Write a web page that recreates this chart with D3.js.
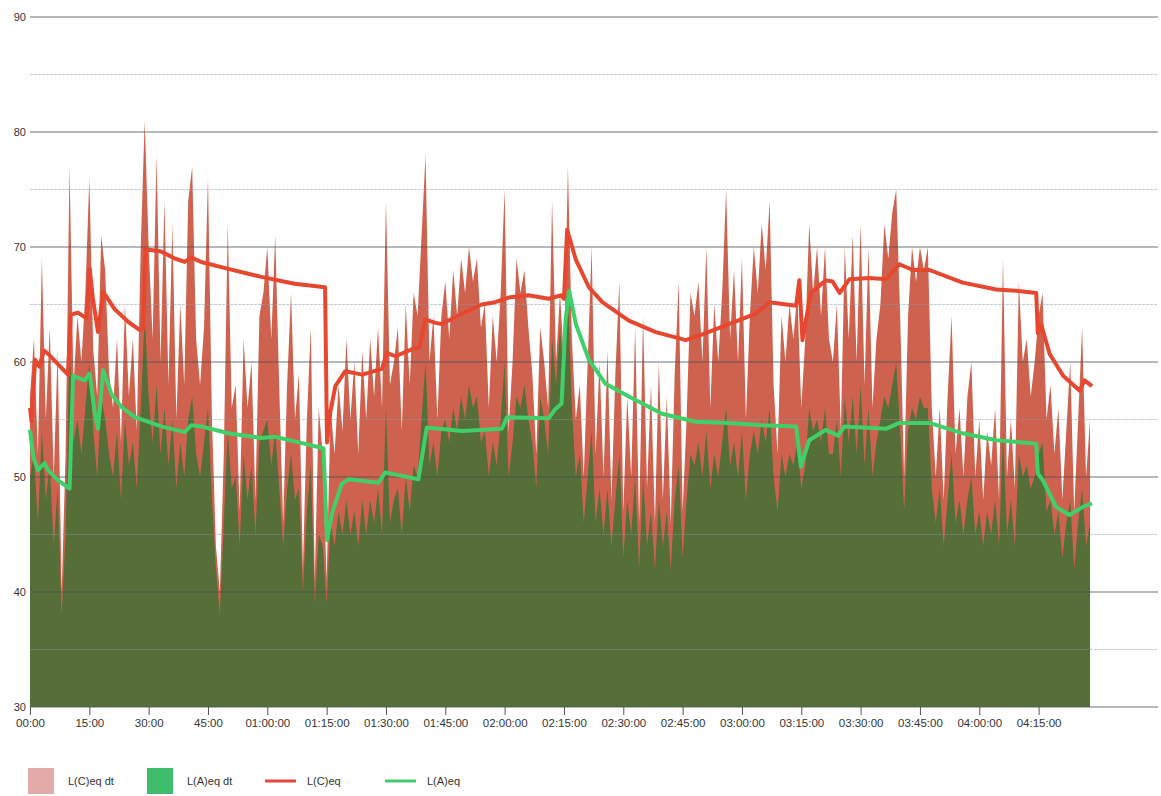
<!DOCTYPE html>
<html>
<head>
<meta charset="utf-8">
<script src="https://cdn.jsdelivr.net/npm/d3@7"></script>
<style>
  body { margin: 0; background: #fff; }
  text { font-family: "Liberation Sans", Arial, sans-serif; }
</style>
</head>
<body>
<div id="main"></div>
<script>
// L(C)eq dt, one value per minute from 00:00 (dB)
const lcDt = [
  57,62,52,69,55,63,50,61,40,52,
  77,58,64,60,66,76,61,57,71,68,
  59,56,62,53,65,57,62,54,70,81,
  70,62,78,60,74,58,72,55,65,58,
  74,77,62,58,63,76,55,44,40,52,
  72,56,58,47,62,56,60,48,64,66,
  70,62,71,58,46,58,66,55,59,42,
  55,63,41,56,52,41,56,52,58,54,
  62,55,60,52,61,55,62,57,63,56,
  74,58,60,63,54,65,58,66,64,71,
  78,60,64,55,64,67,62,68,64,69,
  66,70,67,69,63,65,56,64,60,66,
  75,54,60,69,66,68,63,59,52,63,
  60,56,74,60,66,60,77,62,55,58,
  50,60,70,52,60,50,61,48,59,67,
  47,57,50,63,46,64,49,58,46,60,
  48,57,46,59,67,47,55,66,64,67,
  60,70,56,65,60,66,75,62,68,60,
  69,55,64,70,66,72,68,74,58,52,
  64,60,65,62,66,56,62,72,66,70,
  64,70,62,60,65,54,70,62,71,60,
  72,58,70,56,62,65,72,69,73,75,
  64,50,64,70,67,70,68,70,56,50,
  56,48,57,64,52,56,50,57,60,50,
  55,48,54,51,56,48,69,50,55,49,
  67,60,62,57,60,64,66,55,58,52,
  56,48,54,60,47,55,63,50,55
];

// L(A)eq dt, one value per minute from 00:00 (dB)
const laDt = [
  50,52,46,54,48,51,44,49,38,45,
  62,53,55,52,56,60,54,50,57,55,
  52,50,54,48,55,51,53,49,56,64,
  57,53,58,52,56,51,55,49,53,50,
  55,57,52,50,53,56,48,42,38,46,
  54,49,50,44,52,48,51,45,53,54,
  55,51,54,49,44,49,52,48,49,40,
  47,51,39,45,44,39,46,44,47,45,
  48,45,47,44,48,45,48,46,49,45,
  56,46,48,49,45,50,47,51,50,55,
  60,51,53,50,54,55,53,56,54,57,
  55,58,56,57,53,54,50,53,51,55,
  60,50,53,57,56,58,55,53,49,57,
  55,52,62,58,63,58,66,56,50,52,
  46,50,54,46,49,45,49,44,48,52,
  43,48,45,50,42,50,44,47,42,48,
  44,47,42,48,51,43,48,52,51,53,
  50,54,49,52,50,53,56,51,53,50,
  54,48,52,54,52,55,53,56,50,47,
  52,50,52,51,53,49,51,56,54,55,
  53,56,52,52,55,50,57,53,57,52,
  58,51,56,50,53,55,57,56,58,60,
  54,47,54,56,55,57,56,56,49,46,
  49,44,48,52,46,48,45,48,50,45,
  47,44,47,45,48,44,54,45,48,44,
  52,50,51,49,50,52,53,47,48,45,
  47,43,46,48,42,46,49,44,46
];

// L(C)eq running value: [minute, dB]
const lcEq = [
  [0,56],[0.4,54.8],[1.3,60.2],[2.4,59.6],[3.5,61.0],[4.6,60.7],[7.1,59.8],[9.6,58.9],
  [10.3,64.1],[12.1,64.3],[14.3,63.8],[15.1,68.1],[15.9,65.5],[17.2,62.6],[18.5,66.1],
  [21.4,64.6],[24.8,63.5],[27.7,62.8],[28.6,62.9],[29.2,69.8],[33.2,69.6],[36.6,69.0],
  [39.1,68.7],[40.8,69.1],[43.3,68.7],[50.1,68.1],[58.5,67.4],[66.9,66.8],[74.6,66.5],
  [75.1,53.0],[75.9,55.6],[77.2,57.9],[79.7,59.2],[84.0,58.9],[89.0,59.4],[90.2,60.8],
  [92.4,60.5],[96.5,61.1],[98.5,61.3],[99.9,63.7],[102.5,63.4],[104.1,63.3],[109.2,64.2],
  [114.2,65.0],[117.6,65.2],[121.0,65.6],[126.0,65.8],[131.1,65.5],[134.4,65.8],[135.0,65.5],
  [135.8,71.5],[138.0,68.9],[141.3,66.5],[144.7,65.2],[151.4,63.6],[158.2,62.6],[165.8,61.9],
  [170.0,62.4],[176.7,63.3],[183.5,64.2],[186.9,65.2],[193.7,64.9],[194.5,67.1],[195.3,61.9],
  [197.4,66.0],[201.2,67.1],[202.9,67.0],[204.7,66.0],[207.2,67.2],[212.2,67.3],[216.5,67.2],
  [219.8,68.5],[223.2,68.0],[227.4,68.0],[235.8,66.9],[244.3,66.3],[249.3,66.2],[254.4,66.0],
  [254.8,62.5],[255.7,63.2],[257.8,60.7],[261.2,58.8],[265.4,57.5],[266.6,58.4],[268.5,57.9]
];

// L(A)eq running value: [minute, dB]
const laEq = [
  [0,54.1],[0.8,51.8],[2.0,50.6],[3.7,51.2],[4.6,50.6],[7.1,49.7],[10.0,49.0],[10.9,58.8],
  [13.8,58.4],[15.1,59.0],[16.4,55.5],[17.2,54.2],[18.5,59.3],[20.6,57.2],[23.1,56.1],
  [26.5,55.2],[33.2,54.4],[39.1,53.9],[40.8,54.5],[43.3,54.4],[50.1,53.8],[58.5,53.4],
  [61.9,53.5],[66.9,53.1],[74.2,52.5],[75.1,44.5],[76.3,46.8],[78.8,49.4],[80.5,49.8],
  [88.1,49.5],[89.8,50.4],[98.2,49.8],[100.3,54.3],[109.2,54.0],[119.3,54.2],[120.6,55.2],
  [131.1,55.1],[132.8,55.9],[134.4,56.4],[135.4,63.6],[136.3,66.2],[138.0,63.3],[141.3,60.2],
  [145.5,58.1],[151.4,57.0],[159.8,55.5],[168.3,54.8],[176.7,54.7],[185.1,54.5],[193.7,54.4],
  [194.9,50.9],[197.0,53.2],[201.2,54.1],[204.3,53.6],[205.9,54.4],[216.5,54.2],[219.8,54.7],
  [227.4,54.7],[235.8,53.8],[244.3,53.2],[254.4,52.9],[254.8,50.3],[256.1,49.7],[259.4,47.4],
  [262.8,46.7],[266.2,47.4],[268.5,47.7]
];

const xTicks = [0,15,30,45,60,75,90,105,120,135,150,165,180,195,210,225,240,255];
const yTicks = [30,40,50,60,70,80,90];
const yGrid = [35,45,55,65,75,85];

const legendItems = [
  { label: 'L(C)eq dt', kind: 'box', color: '#e3aaa7', x: 28 },
  { label: 'L(A)eq dt', kind: 'box', color: '#3fbd6d', x: 147 },
  { label: 'L(C)eq', kind: 'line', color: '#e8463a', x: 265 },
  { label: 'L(A)eq', kind: 'line', color: '#43cc70', x: 385 }
];

const width = 1161, height = 796;
const mLeft = 30, plotRight = 1092, gridRight = 1158, mTop = 17, mBottom = 707;

const svg = d3.select('#main').append('svg')
  .attr('width', width)
  .attr('height', height);

const x = d3.scaleLinear().domain([0, 268.5]).range([mLeft, plotRight]);
const y = d3.scaleLinear().domain([30, 90]).range([mBottom, mTop]);

const pad = n => String(n).padStart(2, '0');
const fmtTime = m => m < 60 ? pad(m) + ':00' : pad(Math.floor(m / 60)) + ':' + pad(m % 60) + ':00';

// dt areas
const area = d3.area()
  .x((d, i) => x(i))
  .y0(y(30))
  .y1(d => y(d));

svg.append('path')
  .datum(lcDt)
  .attr('d', area)
  .attr('fill', '#cb5641')
  .attr('opacity', 0.93);

svg.append('path')
  .datum(laDt)
  .attr('d', area)
  .attr('fill', '#566e38');

// grid over the areas
svg.append('g')
  .selectAll('line.minor')
  .data(yGrid)
  .enter().append('line')
    .attr('x1', mLeft).attr('x2', gridRight)
    .attr('y1', d => y(d)).attr('y2', d => y(d))
    .attr('stroke', '#9096a0')
    .attr('stroke-opacity', 0.5)
    .attr('stroke-dasharray', '3,1');

svg.append('g')
  .selectAll('line.major')
  .data(yTicks)
  .enter().append('line')
    .attr('x1', mLeft).attr('x2', gridRight)
    .attr('y1', d => y(d)).attr('y2', d => y(d))
    .attr('stroke', '#4a5058')
    .attr('stroke-opacity', 0.8);

// Leq lines
const line = d3.line()
  .x(d => x(d[0]))
  .y(d => y(d[1]));

svg.append('path')
  .datum(lcEq)
  .attr('d', line)
  .attr('fill', 'none')
  .attr('stroke', '#e8472f')
  .attr('stroke-width', 4)
  .attr('stroke-linejoin', 'round');

svg.append('path')
  .datum(laEq)
  .attr('d', line)
  .attr('fill', 'none')
  .attr('stroke', '#3fd06a')
  .attr('stroke-width', 4)
  .attr('stroke-linejoin', 'round');

// axes
const xAxis = svg.append('g')
  .attr('transform', `translate(0,${mBottom})`)
  .call(d3.axisBottom(x).tickValues(xTicks).tickFormat(fmtTime).tickSize(8).tickPadding(4));
xAxis.select('.domain').remove();
xAxis.selectAll('line').attr('stroke', '#555');
xAxis.selectAll('text').attr('fill', '#333').style('font-size', '11.5px');

const yAxis = svg.append('g')
  .attr('transform', `translate(${mLeft},0)`)
  .call(d3.axisLeft(y).tickValues(yTicks).tickSize(0).tickPadding(4));
yAxis.select('.domain').remove();
yAxis.selectAll('text').attr('fill', '#333').style('font-size', '11px');

// legend
const lg = svg.append('g').attr('transform', 'translate(0,781)');
lg.selectAll('g')
  .data(legendItems)
  .enter().append('g')
  .each(function(d) {
    const g = d3.select(this);
    if (d.kind === 'box') {
      g.append('rect').attr('x', d.x).attr('y', -13).attr('width', 26).attr('height', 26).attr('fill', d.color);
      g.append('text').attr('x', d.x + 40).attr('y', 4).attr('fill', '#333').style('font-size', '11px').text(d.label);
    } else {
      g.append('line').attr('x1', d.x).attr('x2', d.x + 31).attr('y1', 0).attr('y2', 0)
        .attr('stroke', d.color).attr('stroke-width', 3);
      g.append('text').attr('x', d.x + 42).attr('y', 4).attr('fill', '#333').style('font-size', '11px').text(d.label);
    }
  });
</script>
</body>
</html>
